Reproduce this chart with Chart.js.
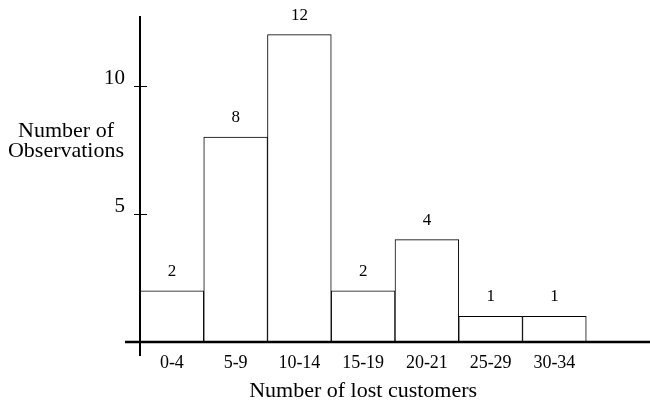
<!DOCTYPE html>
<html>
<head>
<meta charset="utf-8">
<script src="https://cdn.jsdelivr.net/npm/chart.js@4/dist/chart.umd.min.js"></script>
<style>
  html, body { margin: 0; padding: 0; background: #ffffff; }
  #wrap { width: 650px; height: 404px; position: relative; }
</style>
</head>
<body>
<div id="wrap"><canvas id="c" width="650" height="404"></canvas></div>
<script>
const categories = ["0-4", "5-9", "10-14", "15-19", "20-21", "25-29", "30-34"];
const counts = [2, 8, 12, 2, 4, 1, 1];
const yTickValues = [5, 10];
const xTitle = "Number of lost customers";
const yTitleLines = ["Number of", "Observations"];

const FONT = "'Liberation Serif', 'Times New Roman', serif";

const points = categories.map((c, i) => ({ x: i, y: counts[i] }));

function zeroPad(scale) {
  scale.paddingLeft = 0; scale.paddingRight = 0;
  scale.paddingTop = 0; scale.paddingBottom = 0;
}

const decor = {
  id: 'decor',
  afterDatasetsDraw(chart) {
    const ctx = chart.ctx;
    const xs = chart.scales.x, ys = chart.scales.y;
    const y0 = ys.getPixelForValue(0);
    const xLeft = xs.getPixelForValue(-0.5);
    ctx.save();
    ctx.strokeStyle = '#000';
    // horizontal axis
    ctx.lineWidth = 2.5;
    ctx.beginPath();
    ctx.moveTo(xLeft - 15, y0);
    ctx.lineTo(xs.getPixelForValue(xs.max), y0);
    ctx.stroke();
    // vertical axis
    ctx.lineWidth = 2;
    ctx.beginPath();
    ctx.moveTo(xLeft, ys.getPixelForValue(ys.max));
    ctx.lineTo(xLeft, y0 + 14);
    ctx.stroke();
    // y tick marks
    ctx.lineWidth = 1;
    yTickValues.forEach(v => {
      const py = Math.round(ys.getPixelForValue(v)) + 0.5;
      ctx.beginPath();
      ctx.moveTo(xLeft - 6, py);
      ctx.lineTo(xLeft + 7, py);
      ctx.stroke();
    });
    // value labels
    ctx.fillStyle = '#000';
    ctx.font = '17px ' + FONT;
    ctx.textAlign = 'center';
    ctx.textBaseline = 'alphabetic';
    const meta = chart.getDatasetMeta(0);
    meta.data.forEach((bar, i) => {
      ctx.fillText(String(counts[i]), bar.x, bar.y - 15);
    });
    // x title centered under bars
    const xMid = (xs.getPixelForValue(-0.5) + xs.getPixelForValue(categories.length - 0.5)) / 2;
    ctx.font = '22px ' + FONT;
    ctx.fillText(xTitle, xMid, 397);
    // y title (horizontal, two lines)
    ctx.fillText(yTitleLines[0], 66, 137);
    ctx.fillText(yTitleLines[1], 66, 157);
    ctx.restore();
  }
};

new Chart(document.getElementById('c'), {
  type: 'bar',
  data: {
    datasets: [{
      data: points,
      backgroundColor: '#ffffff',
      borderColor: '#000000',
      borderWidth: 1,
      borderSkipped: false,
      barPercentage: 1,
      categoryPercentage: 1
    }]
  },
  options: {
    responsive: false,
    animation: false,
    events: [],
    layout: { padding: { top: 16, right: 0, left: 0, bottom: 0 } },
    plugins: { legend: { display: false }, tooltip: { enabled: false }, title: { display: false } },
    scales: {
      x: {
        type: 'linear',
        offset: false,
        min: -0.5,
        max: 7.5,
        grid: { display: false, drawTicks: false, offset: false },
        border: { display: false },
        afterBuildTicks(scale) { scale.ticks = categories.map((c, i) => ({ value: i })); },
        afterFit(scale) { scale.height = 62; zeroPad(scale); },
        ticks: {
          padding: 10,
          color: '#000',
          font: { family: FONT, size: 18 },
          maxRotation: 0,
          autoSkip: false,
          callback: (v) => categories[v] !== undefined ? categories[v] : ''
        }
      },
      y: {
        min: 0,
        max: 12.73,
        grid: { display: false, drawTicks: false },
        border: { display: false },
        afterBuildTicks(scale) { scale.ticks = yTickValues.map(v => ({ value: v })); },
        afterFit(scale) { scale.width = 140; zeroPad(scale); },
        ticks: {
          padding: 15,
          labelOffset: -7,
          color: '#000',
          font: { family: FONT, size: 21 },
          callback: (v) => String(v)
        }
      }
    }
  },
  plugins: [decor]
});
</script>
</body>
</html>
